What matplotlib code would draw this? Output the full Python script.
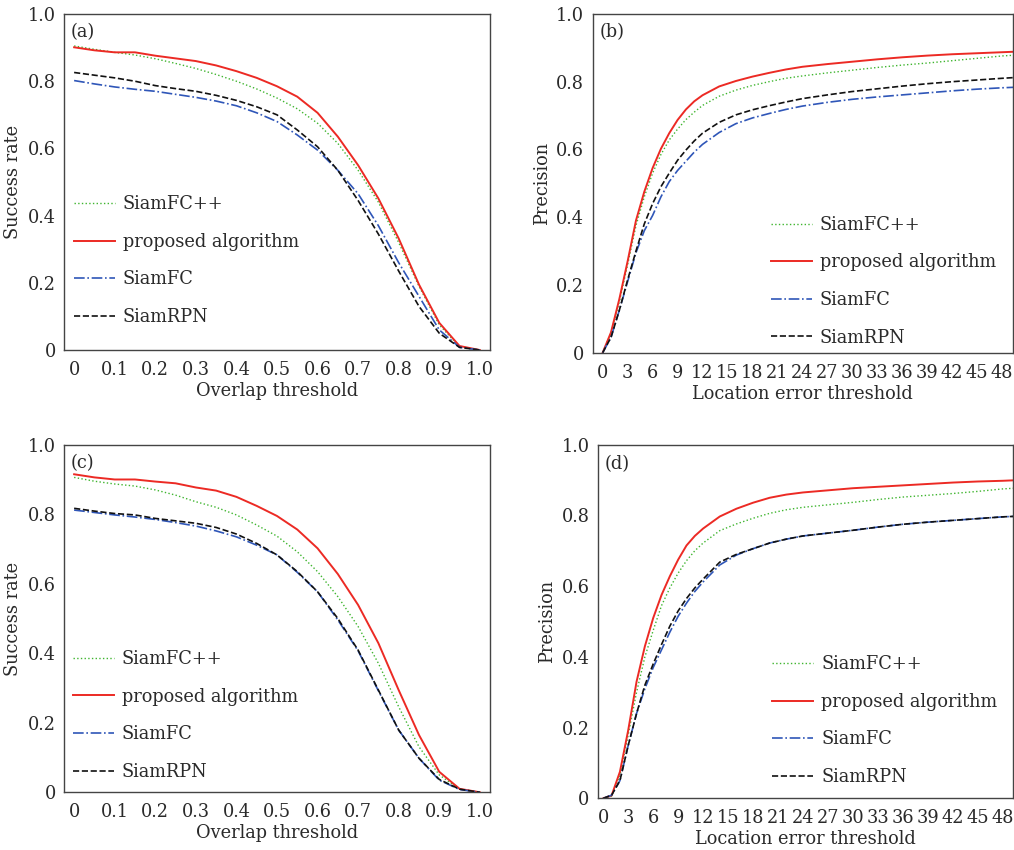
import numpy as np
import matplotlib
matplotlib.use("Agg")
import matplotlib.pyplot as plt

# overlap thresholds for success plots (a), (c)
overlap = [0, 0.05, 0.1, 0.15, 0.2, 0.25, 0.3, 0.35, 0.4, 0.45, 0.5,
           0.55, 0.6, 0.65, 0.7, 0.75, 0.8, 0.85, 0.9, 0.95, 1.0]

# (a)
a_siamfcpp = [0.905, 0.895, 0.886, 0.878, 0.867, 0.853, 0.838, 0.820, 0.800, 0.777, 0.750,
              0.718, 0.675, 0.615, 0.535, 0.440, 0.320, 0.190, 0.075, 0.010, 0.0]
a_proposed = [0.901, 0.892, 0.886, 0.886, 0.876, 0.868, 0.860, 0.847, 0.830, 0.810, 0.785,
              0.754, 0.706, 0.635, 0.550, 0.451, 0.332, 0.195, 0.081, 0.012, 0.0]
a_siamfc = [0.802, 0.792, 0.783, 0.776, 0.770, 0.761, 0.752, 0.741, 0.727, 0.706, 0.680,
            0.640, 0.595, 0.535, 0.465, 0.370, 0.260, 0.160, 0.060, 0.008, 0.0]
a_siamrpn = [0.826, 0.818, 0.810, 0.800, 0.787, 0.778, 0.770, 0.758, 0.743, 0.724, 0.700,
             0.655, 0.605, 0.535, 0.445, 0.345, 0.235, 0.130, 0.050, 0.008, 0.0]

# (c)
c_siamfcpp = [0.906, 0.895, 0.887, 0.881, 0.870, 0.855, 0.836, 0.820, 0.798, 0.769, 0.737,
              0.692, 0.635, 0.563, 0.477, 0.371, 0.246, 0.131, 0.050, 0.009, 0.0]
c_proposed = [0.915, 0.906, 0.900, 0.900, 0.894, 0.889, 0.877, 0.868, 0.850, 0.824, 0.795,
              0.756, 0.702, 0.628, 0.539, 0.429, 0.294, 0.165, 0.059, 0.010, 0.0]
c_siamfc = [0.812, 0.805, 0.798, 0.792, 0.785, 0.776, 0.766, 0.752, 0.735, 0.711, 0.683,
            0.633, 0.577, 0.496, 0.407, 0.292, 0.179, 0.098, 0.035, 0.008, 0.0]
c_siamrpn = [0.817, 0.809, 0.802, 0.798, 0.788, 0.781, 0.774, 0.762, 0.743, 0.716, 0.683,
             0.635, 0.577, 0.500, 0.409, 0.294, 0.179, 0.098, 0.037, 0.009, 0.0]

# location error thresholds for precision plots (b), (d)
loc_err = [0, 1, 2, 3, 4, 5, 6, 7, 8, 9, 10, 11, 12, 14, 16, 18, 20, 22, 24, 27,
           30, 33, 36, 39, 42, 45, 48, 50]

# (b)
b_siamfcpp = [0.0, 0.058, 0.150, 0.260, 0.375, 0.460, 0.530, 0.585, 0.628, 0.660, 0.688, 0.710, 0.730, 0.757,
              0.775, 0.789, 0.800, 0.810, 0.817, 0.826, 0.834, 0.842, 0.849, 0.855, 0.862, 0.869, 0.876, 0.879]
b_proposed = [0.0, 0.060, 0.158, 0.270, 0.390, 0.475, 0.545, 0.602, 0.648, 0.687, 0.718, 0.742, 0.760, 0.786,
              0.802, 0.815, 0.826, 0.836, 0.844, 0.852, 0.859, 0.866, 0.872, 0.877, 0.881, 0.884, 0.887, 0.889]
b_siamfc = [0.0, 0.045, 0.125, 0.210, 0.295, 0.360, 0.405, 0.460, 0.505, 0.538, 0.565, 0.592, 0.615, 0.650,
            0.676, 0.693, 0.706, 0.718, 0.728, 0.739, 0.748, 0.755, 0.761, 0.767, 0.773, 0.778, 0.782, 0.784]
b_siamrpn = [0.0, 0.045, 0.125, 0.215, 0.300, 0.380, 0.440, 0.490, 0.530, 0.568, 0.598, 0.625, 0.648, 0.680,
             0.702, 0.717, 0.729, 0.740, 0.750, 0.761, 0.771, 0.779, 0.787, 0.794, 0.800, 0.805, 0.810, 0.813]

# (d)
d_siamfcpp = [0.0, 0.006, 0.065, 0.180, 0.300, 0.400, 0.475, 0.545, 0.595, 0.637, 0.672, 0.700, 0.722, 0.757,
              0.776, 0.792, 0.806, 0.816, 0.823, 0.830, 0.837, 0.845, 0.852, 0.857, 0.862, 0.868, 0.875, 0.878]
d_proposed = [0.0, 0.008, 0.075, 0.193, 0.330, 0.430, 0.510, 0.575, 0.628, 0.675, 0.715, 0.742, 0.763, 0.797,
              0.819, 0.836, 0.850, 0.859, 0.865, 0.871, 0.877, 0.881, 0.885, 0.889, 0.893, 0.896, 0.898, 0.900]
d_siamfc = [0.0, 0.009, 0.050, 0.150, 0.240, 0.310, 0.370, 0.420, 0.470, 0.515, 0.552, 0.585, 0.612, 0.660,
            0.688, 0.706, 0.722, 0.733, 0.742, 0.750, 0.758, 0.767, 0.775, 0.781, 0.786, 0.791, 0.796, 0.798]
d_siamrpn = [0.0, 0.009, 0.050, 0.150, 0.240, 0.320, 0.380, 0.435, 0.487, 0.530, 0.565, 0.595, 0.620, 0.668,
             0.690, 0.706, 0.722, 0.733, 0.742, 0.750, 0.758, 0.767, 0.775, 0.781, 0.786, 0.791, 0.796, 0.798]

names = ["SiamFC++", "proposed algorithm", "SiamFC", "SiamRPN"]
overlap_ticks = [0, 0.1, 0.2, 0.3, 0.4, 0.5, 0.6, 0.7, 0.8, 0.9, 1.0]
overlap_ticklabels = ["0", "0.1", "0.2", "0.3", "0.4", "0.5", "0.6", "0.7", "0.8", "0.9", "1.0"]
err_ticks = list(range(0, 49, 3))
y_ticks = [0, 0.2, 0.4, 0.6, 0.8, 1.0]
y_ticklabels = ["0", "0.2", "0.4", "0.6", "0.8", "1.0"]

styles = [dict(color="#3fb52f", ls=":", lw=1.0),
          dict(color="#ec2a24", ls="-", lw=1.4),
          dict(color="#2f56b8", ls="-.", lw=1.2),
          dict(color="#111111", ls="--", lw=1.2)]

plt.rcParams["font.family"] = "DejaVu Serif"
plt.rcParams["font.size"] = 12.8
txt = "#2a2a2a"

fig = plt.figure(figsize=(10.14, 8.5), dpi=100)
panels = [
    ("(a)", [0.0631, 0.5882, 0.4201, 0.3953], overlap, [a_siamfcpp, a_proposed, a_siamfc, a_siamrpn],
     "Overlap threshold", "Success rate", (0.023, 0.072)),
    ("(b)", [0.5845, 0.5851, 0.4145, 0.3985], loc_err, [b_siamfcpp, b_proposed, b_siamfc, b_siamrpn],
     "Location error threshold", "Precision", (0.424, 0.018)),
    ("(c)", [0.0631, 0.0679, 0.4201, 0.4089], overlap, [c_siamfcpp, c_proposed, c_siamfc, c_siamrpn],
     "Overlap threshold", "Success rate", (0.021, 0.033)),
    ("(d)", [0.5897, 0.0608, 0.4093, 0.4160], loc_err, [d_siamfcpp, d_proposed, d_siamfc, d_siamrpn],
     "Location error threshold", "Precision", (0.42, 0.035)),
]

for tag, rect, xs, series, xlab, ylab, leg_pos in panels:
    ax = fig.add_axes(rect)
    for ys, name, st in zip(series, names, styles):
        ax.plot(xs, ys, label=name, **st)
    if tag in ("(a)", "(c)"):
        ax.set_xlim(-0.025, 1.025)
        ax.set_xticks(overlap_ticks)
        ax.set_xticklabels(overlap_ticklabels)
    elif tag == "(b)":
        ax.set_xlim(-1.2, 49.3)
        ax.set_xticks(err_ticks)
    else:
        ax.set_xlim(-0.64, 49.24)
        ax.set_xticks(err_ticks)
    ax.set_ylim(0, 1.0)
    ax.set_yticks(y_ticks)
    ax.set_yticklabels(y_ticklabels)
    ax.tick_params(length=0, pad=6, colors=txt, labelsize=12.8)
    ax.tick_params(axis="x", pad=8)
    for s in ax.spines.values():
        s.set_color("#444444")
        s.set_linewidth(1.0)
    ax.set_xlabel(xlab, color=txt, labelpad=2)
    ax.set_ylabel(ylab, color=txt, labelpad=4)
    ax.text(0.016, 0.946, tag, transform=ax.transAxes, ha="left", va="center", color=txt)
    ax.legend(loc="lower left", bbox_to_anchor=leg_pos, frameon=False, borderpad=0,
              borderaxespad=0, handlelength=2.3, handletextpad=0.45, labelspacing=1.1,
              labelcolor=txt)

fig.savefig("out.png", dpi=100)
